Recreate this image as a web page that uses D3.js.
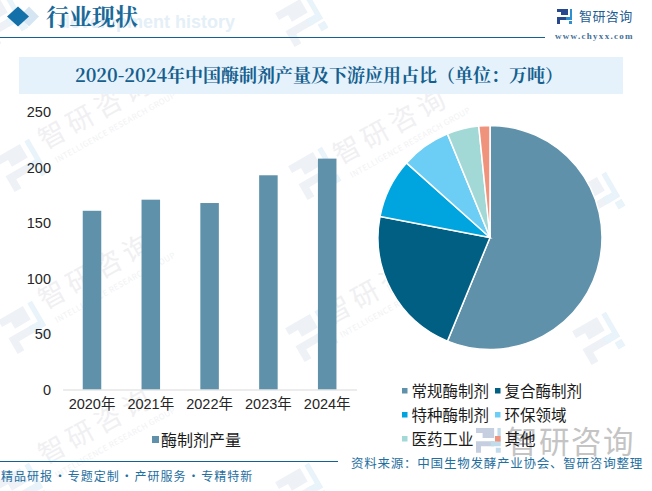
<!DOCTYPE html>
<html><head><meta charset="utf-8">
<script src="https://cdn.jsdelivr.net/npm/d3@7/dist/d3.min.js"></script>
<style>html,body{margin:0;background:#fff}svg{display:block}</style></head>
<body><svg id="c" width="652" height="491"></svg>
<script>
const years=["2020年","2021年","2022年","2023年","2024年"];
const output=[161,171,168,193,208];
const yTicks=[0,50,100,150,200,250];
const useNames=["常规酶制剂","复合酶制剂","特种酶制剂","环保领域","医药工业","其他"];
const useShare=[56.2,21.8,8.6,7.2,4.6,1.6];
const useColors=["#5f92aa","#005f83","#00a5df","#6ccdf5","#a2d9d6","#f0937c"];
const barColor="#5f92aa";
const sans='"Noto Sans CJK SC","Liberation Sans",sans-serif';
const axisFont='"Liberation Sans","Noto Sans CJK SC",sans-serif';
const serif='"Noto Serif CJK SC","Liberation Serif","Noto Sans CJK SC",serif';
const svg=d3.select("#c").style("font-family",sans);
const logoA="M0 0H11V6H4V3H0ZM0 8H11V11H3V15H0Z", logoB="M13 0H15V11H9V8H13ZM12 12H15V15H12Z";

// watermark
const wm=svg.append("g");
[[20,165],[23,327],[313,173],[310,335],[597,198],[597,338],[300,20],[20,489],[300,489],[0,20]].forEach(([x,y])=>{
  const g=wm.append("g").attr("transform",`translate(${x},${y}) rotate(-30) scale(2.6) translate(-7,-7)`);
  g.append("path").attr("d",logoA).attr("fill","#eef1f6");
  g.append("path").attr("d",logoB).attr("fill","#e8f3fa");
});
[[45,150],[45,310],[340,165],[45,465],[330,325]].forEach(([x,y])=>{
  wm.append("text").attr("transform",`translate(${x},${y}) rotate(-29)`).attr("font-size",27).attr("letter-spacing",5).attr("fill","#f0f0f2").text("智研咨询");
  wm.append("text").attr("transform",`translate(${x+12},${y+13}) rotate(-29)`).attr("font-size",8).attr("letter-spacing",.4).attr("fill","#f1f2f4").text("INTELLIGENCE RESEARCH GROUP");
});
// large footer watermark
const fw=svg.append("g").attr("transform","translate(476,428) scale(1.65)");
fw.append("path").attr("d",logoA).attr("fill","#c5cfe0");
fw.append("path").attr("d",logoB).attr("fill","#c2dcec");
svg.append("text").attr("x",507).attr("y",453).attr("font-size",30.5).attr("letter-spacing",1.5).attr("fill","#c4c4c4").text("智研咨询");

// header
svg.append("text").attr("x",235).attr("y",28).attr("text-anchor","end").attr("font-size",18).attr("font-weight",700).attr("fill","#e4eff7").attr("font-family",'"Liberation Sans",sans-serif').text("development history");
svg.append("path").attr("d","M19 16.5L29 6.5L39 16.5L29 26.5Z").attr("fill","#d5e6f2");
svg.append("path").attr("d","M7 16.5L18 6.5L29 16.5L18 26.5Z").attr("fill","#1370a9");
svg.append("text").attr("x",46).attr("y",25).attr("font-size",23).attr("font-weight",700).attr("fill","#1a6a99").attr("font-family",serif).text("行业现状");
svg.append("line").attr("x1",0).attr("x2",545).attr("y1",37.5).attr("y2",37.5).attr("stroke","#15608f").attr("stroke-width",1);
const lg=svg.append("g").attr("transform","translate(557,9)");
lg.append("path").attr("d",logoA).attr("fill","#27488f");
lg.append("path").attr("d",logoB).attr("fill","#2d8fd0");
svg.append("text").attr("x",579).attr("y",21).attr("font-size",13).attr("letter-spacing",.4).attr("fill","#1f5d92").text("智研咨询");
svg.append("text").attr("x",555).attr("y",39).attr("font-size",9).attr("font-weight",700).attr("letter-spacing",1.3).attr("fill","#3f6f97").attr("font-family",'"Liberation Serif",serif').text("www.chyxx.com");

// title band
svg.append("rect").attr("x",19).attr("y",57).attr("width",604).attr("height",37).attr("fill","#e5f2fb");
svg.append("text").attr("x",319).attr("y",82).attr("text-anchor","middle").attr("font-size",18).attr("font-weight",700).attr("fill","#15608f").attr("font-family",serif).text("2020-2024年中国酶制剂产量及下游应用占比（单位：万吨）");

// bars
const x=d3.scaleBand().domain(years).range([62.6,356.6]).paddingInner(.685).paddingOuter(.3425);
const y=d3.scaleLinear().domain([0,250]).range([389.5,112]);
const gy=svg.append("g").attr("transform","translate(62,0)").call(d3.axisLeft(y).tickValues(yTicks).tickSize(0).tickPadding(11));
gy.select(".domain").remove();
gy.selectAll("text").attr("font-size",14.5).attr("fill","#262626").attr("font-family",axisFont);
svg.selectAll(".b").data(output).join("rect").attr("class","b").attr("x",(d,i)=>x(years[i])).attr("y",d=>y(d)).attr("width",x.bandwidth()).attr("height",d=>y(0)-y(d)).attr("fill",barColor);
const gx=svg.append("g").attr("transform","translate(0,389.5)").call(d3.axisBottom(x).tickSize(0).tickPadding(9));
gx.select(".domain").attr("stroke","#d9d9d9");
gx.selectAll("text").attr("font-size",14.5).attr("fill","#262626").attr("font-family",axisFont);
svg.append("rect").attr("x",152).attr("y",436).attr("width",7).attr("height",7).attr("fill",barColor);
svg.append("text").attr("x",161).attr("y",446).attr("font-size",16).attr("fill","#1a1a1a").text("酶制剂产量");

// pie
const pie=d3.pie().sort(null)(useShare);
const arc=d3.arc().innerRadius(0).outerRadius(112);
svg.append("g").attr("transform","translate(490,237.5)").selectAll("path").data(pie).join("path").attr("d",arc).attr("fill",(d,i)=>useColors[i]).attr("stroke","#fff").attr("stroke-width",1.5);

// legend
const lx=[402,495], ly=[391,415,439];
useNames.forEach((n,i)=>{
  const cx=lx[i%2], cy=ly[Math.floor(i/2)];
  svg.append("rect").attr("x",cx).attr("y",cy-3).attr("width",5.5).attr("height",5.5).attr("fill",useColors[i]);
  svg.append("text").attr("x",cx+9.5).attr("y",cy+6).attr("font-size",15.5).attr("fill","#1a1a1a").text(n);
});

// footer
svg.append("line").attr("x1",0).attr("x2",338).attr("y1",461.5).attr("y2",461.5).attr("stroke","#15608f");
svg.append("text").attr("x",1).attr("y",481).attr("font-size",12).attr("letter-spacing",1).attr("word-spacing",-2.8).attr("fill","#1f6f9f").text("精品研报 · 专题定制 · 产研服务 · 专精特新");
svg.append("text").attr("x",351).attr("y",468).attr("font-size",12.5).attr("letter-spacing",.77).attr("fill","#1f6f9f").text("资料来源：中国生物发酵产业协会、智研咨询整理");
</script></body></html>
